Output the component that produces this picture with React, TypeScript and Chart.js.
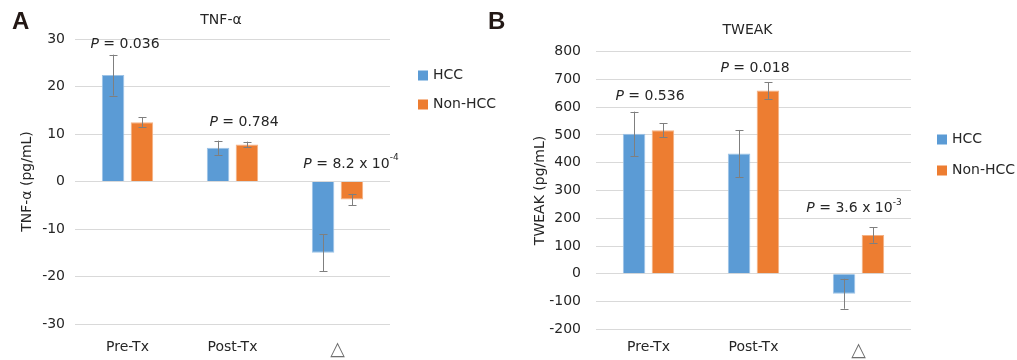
import React, { useEffect, useRef } from "react";
import { Chart, registerables } from "chart.js";

Chart.register(...registerables);

// ---------- data ----------
const categories = ["Pre-Tx", "Post-Tx", "△"];
const seriesNames = ["HCC", "Non-HCC"];
const seriesColors = ["#5B9BD5", "#ED7D31"];
const seriesBorders = ["#9DC3E6", "#F4B183"];

const tnfHcc = [22.4, 7.1, -15.0];
const tnfHccErr = [4.3, 1.5, 3.9];
const tnfNonHcc = [12.5, 7.8, -3.8];
const tnfNonHccErr = [1.0, 0.6, 1.2];
const tnfTickMin = -30;
const tnfTickMax = 30;
const tnfTickStep = 10;
const tnfPValues = ["0.036", "0.784", "8.2 x 10"];
const tnfPSup = ["", "", "-4"];
const tnfPLabelY = [28.9, 12.5, 3.7];

const tweakHcc = [504, 433, -72];
const tweakHccErr = [80, 85, 54];
const tweakNonHcc = [517, 660, 140];
const tweakNonHccErr = [25, 30, 28];
const tweakTickMin = -200;
const tweakTickMax = 800;
const tweakTickStep = 100;
const tweakPValues = ["0.536", "0.018", "3.6 x 10"];
const tweakPSup = ["", "", "-3"];
const tweakPLabelY = [639, 740, 235];

const FONT = "'DejaVu Sans', Verdana, sans-serif";
const TEXT = "#262626";

type PanelProps = {
  left: number;
  width: number;
  title: string;
  titleX: number;
  titleY: number;
  yTitle: string;
  yTitlePad: number;
  tickPad: number;
  xTickPad: number;
  pad: { left: number; right: number; top: number; bottom: number };
  yWidth: number;
  xHeight: number;
  min: number;
  max: number;
  step: number;
  values: number[][];
  errors: number[][];
  pValues: string[];
  pSup: string[];
  pY: number[];
  pDx: number[];
  legendX: number;
  legendY: number[];
};

function Panel(p: PanelProps) {
  const ref = useRef<HTMLCanvasElement | null>(null);
  useEffect(() => {
    if (!ref.current) return;
    const errorBars = {
      id: "errorBars",
      afterDatasetsDraw(chart: any) {
        const ctx = chart.ctx;
        const y = chart.scales.y;
        ctx.save();
        ctx.strokeStyle = "#7F7F7F";
        ctx.lineWidth = 1;
        chart.data.datasets.forEach((ds: any, di: number) => {
          const meta = chart.getDatasetMeta(di);
          meta.data.forEach((bar: any, i: number) => {
            const v = ds.data[i];
            const e = p.errors[di][i];
            const x = Math.round(bar.x) + 0.5;
            const y1 = y.getPixelForValue(v + e);
            const y2 = y.getPixelForValue(v - e);
            ctx.beginPath();
            ctx.moveTo(x, y1);
            ctx.lineTo(x, y2);
            ctx.moveTo(x - 4, Math.round(y1) + 0.5);
            ctx.lineTo(x + 4, Math.round(y1) + 0.5);
            ctx.moveTo(x - 4, Math.round(y2) + 0.5);
            ctx.lineTo(x + 4, Math.round(y2) + 0.5);
            ctx.stroke();
          });
        });
        ctx.restore();
      },
    };
    const annotations = {
      id: "annotations",
      afterDraw(chart: any) {
        const ctx = chart.ctx;
        const xs = chart.scales.x;
        const ys = chart.scales.y;
        ctx.save();
        ctx.fillStyle = TEXT;
        ctx.textBaseline = "middle";
        // title
        ctx.font = `14px ${FONT}`;
        ctx.textAlign = "center";
        ctx.fillText(p.title, p.titleX, p.titleY);
        // P labels
        ctx.textAlign = "left";
        p.pValues.forEach((val, i) => {
          const cx = xs.getPixelForValue(i) + p.pDx[i];
          const cy = ys.getPixelForValue(p.pY[i]);
          ctx.font = `italic 14px ${FONT}`;
          const wP = ctx.measureText("P").width;
          ctx.font = `14px ${FONT}`;
          const rest = " = " + val;
          const wR = ctx.measureText(rest).width;
          ctx.font = `9px ${FONT}`;
          const wS = p.pSup[i] ? ctx.measureText(p.pSup[i]).width : 0;
          let x = cx - (wP + wR + wS) / 2;
          ctx.font = `italic 14px ${FONT}`;
          ctx.fillText("P", x, cy);
          x += wP;
          ctx.font = `14px ${FONT}`;
          ctx.fillText(rest, x, cy);
          x += wR;
          if (p.pSup[i]) {
            ctx.font = `9px ${FONT}`;
            ctx.fillText(p.pSup[i], x, cy - 6);
          }
        });
        // legend
        ctx.font = `14px ${FONT}`;
        chart.data.datasets.forEach((ds: any, di: number) => {
          const ly = p.legendY[di];
          ctx.fillStyle = ds.backgroundColor;
          ctx.fillRect(p.legendX, ly - 5, 10, 10);
          ctx.fillStyle = TEXT;
          ctx.fillText(ds.label, p.legendX + 15, ly);
        });
        ctx.restore();
      },
    };
    const chart = new Chart(ref.current, {
      type: "bar",
      data: {
        labels: categories,
        datasets: seriesNames.map((name, i) => ({
          label: name,
          data: p.values[i],
          backgroundColor: seriesColors[i],
          borderColor: seriesBorders[i],
          borderWidth: 1,
          categoryPercentage: 0.55,
          barPercentage: 0.78,
        })),
      },
      options: {
        animation: false,
        responsive: false,
        maintainAspectRatio: false,
        layout: { padding: p.pad },
        plugins: {
          legend: { display: false },
          title: { display: false },
          tooltip: { enabled: false },
        },
        scales: {
          x: {
            grid: { display: false, drawTicks: false },
            border: { display: false },
            ticks: {
              padding: p.xTickPad,
              font: (c: any) =>
                c.index === 2
                  ? { family: FONT, size: 19 }
                  : { family: FONT, size: 14 },
              color: (c: any) => (c.index === 2 ? "#6F6F6F" : TEXT),
            },
            afterFit: (s: any) => {
              s.height = p.xHeight;
            },
          },
          y: {
            min: p.min,
            max: p.max,
            grid: { color: "#D9D9D9", lineWidth: 1, drawTicks: false },
            border: { display: false },
            ticks: {
              stepSize: p.step,
              padding: p.tickPad,
              color: TEXT,
              font: { family: FONT, size: 14 },
            },
            title: {
              display: true,
              text: p.yTitle,
              color: TEXT,
              font: { family: FONT, size: 14 },
              padding: { top: p.yTitlePad, bottom: 0 },
            },
            afterFit: (s: any) => {
              s.width = p.yWidth;
            },
          },
        },
      },
      plugins: [errorBars, annotations],
    } as any);
    return () => chart.destroy();
  }, []);
  return (
    <canvas
      ref={ref}
      width={p.width}
      height={360}
      style={{ position: "absolute", left: p.left, top: 0, width: p.width, height: 360 }}
    />
  );
}

export default function App() {
  const letter: React.CSSProperties = {
    position: "absolute",
    top: 9,
    fontFamily: "'Liberation Sans', Arial, sans-serif",
    fontWeight: "bold",
    fontSize: 24,
    lineHeight: "24px",
    color: "#231815",
  };
  return (
    <div
      style={{
        position: "fixed",
        left: 0,
        top: 0,
        width: 1017,
        height: 360,
        background: "#fff",
        overflow: "hidden",
      }}
    >
      <Panel
        left={0}
        width={500}
        title="TNF-α"
        titleX={221}
        titleY={20}
        yTitle="TNF-α (pg/mL)"
        yTitlePad={19}
        tickPad={10}
        xTickPad={15}
        pad={{ left: 0, right: 110, top: 39, bottom: 0 }}
        yWidth={75}
        xHeight={36}
        min={tnfTickMin}
        max={tnfTickMax}
        step={tnfTickStep}
        values={[tnfHcc, tnfNonHcc]}
        errors={[tnfHccErr, tnfNonHccErr]}
        pValues={tnfPValues}
        pSup={tnfPSup}
        pY={tnfPLabelY}
        pDx={[-2.5, 11.5, 13.5]}
        legendX={418}
        legendY={[75.5, 104.5]}
      />
      <Panel
        left={500}
        width={517}
        title="TWEAK"
        titleX={247.5}
        titleY={30.5}
        yTitle="TWEAK (pg/mL)"
        yTitlePad={31.6}
        tickPad={15}
        xTickPad={10}
        pad={{ left: 0, right: 106, top: 51.7, bottom: 0 }}
        yWidth={96}
        xHeight={30.7}
        min={tweakTickMin}
        max={tweakTickMax}
        step={tweakTickStep}
        values={[tweakHcc, tweakNonHcc]}
        errors={[tweakHccErr, tweakNonHccErr]}
        pValues={tweakPValues}
        pSup={tweakPSup}
        pY={tweakPLabelY}
        pDx={[1.5, 1.5, -4.5]}
        legendX={437}
        legendY={[139.5, 170.5]}
      />
      <div style={{ ...letter, left: 12 }}>A</div>
      <div style={{ ...letter, left: 488 }}>B</div>
    </div>
  );
}
